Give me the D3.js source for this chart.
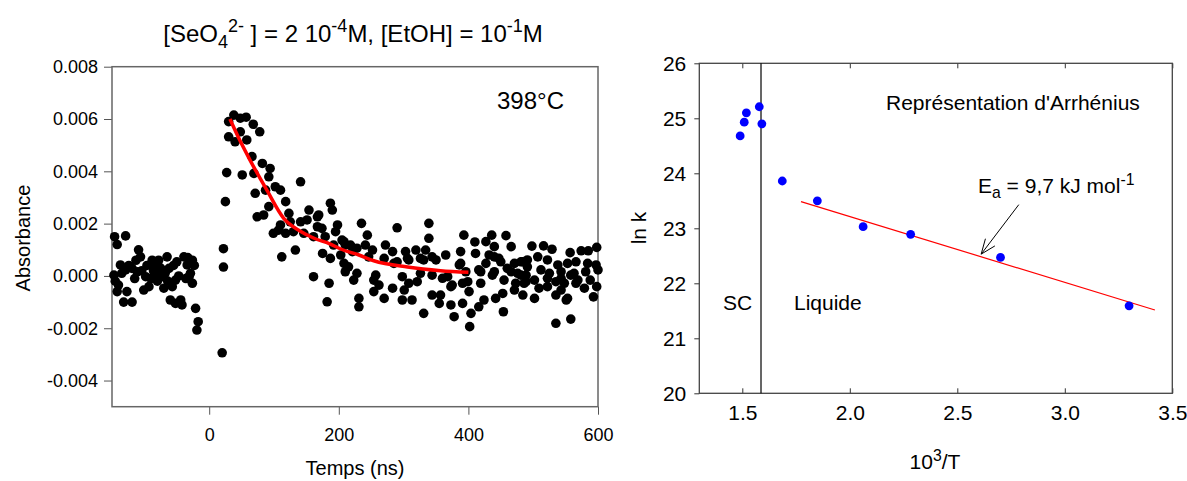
<!DOCTYPE html>
<html>
<head>
<meta charset="utf-8">
<script src="https://cdn.jsdelivr.net/npm/d3@7"></script>
<style>
  body { margin: 0; background: #fff; }
  text { font-family: "Liberation Sans", Arial, sans-serif; fill: #000; }
</style>
</head>
<body>
<svg id="chart" width="1187" height="481"></svg>
<script>
// ---- left panel: transient absorbance at 398°C ----
// [time (ns), absorbance]
const decayPts = [
  [-147,0.00003],[-146,0.0015],[-145,-0.0002],[-142,0.0012],[-142,-0.0006],[-140,-0.00035],[-137,0.00042],
  [-135,0.0001],[-132,-0.001],[-129,0.00153],[-129,0.00023],[-127,-0.0006],[-124,0.0004],[-119,0.00029],
  [-119,-0.001],[-115,-0.0001],[-113,0.0006],[-111,0.00016],[-109,0.001],[-106,0.00073],[-104,0.0002],
  [-101,-0.00054],[-98,-0.00003],[-96,0.0004],[-93,-0.00041],[-90,-0.0001],[-88,0.0006],[-86,0.0002],
  [-83,0.00042],[-83,0.0001],[-80,-0.0002],[-78,0.0006],[-75,0.0003],[-73,-0.00003],[-70,-0.00047],
  [-68,0.0001],[-65,0.00073],[-64,-0.0002],[-62,0.00029],[-60,-0.00092],[-57,-0.00041],[-55,0.0004],
  [-52,-0.00105],[-52,-0.00016],[-50,0.00054],[-47,0.0],[-44,-0.00092],[-42,-0.00111],[-39,0.00073],
  [-36,-0.0001],[-34,0.00042],[-33,0.0007],[-31,-0.00003],[-29,0.0001],[-26,0.0006],[-26,-0.00028],
  [-23,0.0004],[-21,-0.00124],[-19,-0.00207],[-17,-0.00175],
  [20,-0.00294],[22,0.00104],[22,0.00034],[25,0.00284],[27,0.00395],[30,0.0059],[30,0.00532],
  [38,0.00615],[40,0.00513],[48,0.00603],[48,0.00551],[51,0.00386],[57,0.00607],[58,0.0052],
  [66,0.00456],[68,0.0058],[69,0.00392],[71,0.00316],[74,0.00226],[78,0.00551],[82,0.0043],
  [84,0.00233],[87,0.00328],[92,0.00379],[92,0.00265],[94,0.00411],[99,0.00163],[102,0.00341],
  [107,0.00175],[110,0.00328],[110,0.00195],[112,0.00073],[118,0.00284],[118,0.00163],[123,0.00239],
  [125,0.00207],[130,0.00169],[133,0.00099],[141,0.0036],[141,0.00207],[146,0.00163],[151,0.00214],
  [154,0.00252],[161,0.0015],[161,-0.00003],[167,0.00226],[167,0.00188],[169,0.00233],[174,0.00182],
  [175,0.00086],[179,0.0015],[182,-0.00099],[185,-0.00028],[187,0.00278],[187,0.00067],[190,0.00252],
  [192,0.00118],[195,0.00169],[198,0.00195],[203,0.0008],[205,0.00137],[208,0.00131],[208,0.00048],
  [210,0.00118],[210,0.00016],[215,0.00035],[218,0.00118],[221,0.00093],[223,-0.00016],[228,0.00106],
  [228,0.0001],[231,-0.00086],[231,-0.00118],[235,0.00201],[241,0.00118],[244,0.00156],[246,0.00073],
  [252,0.00099],[254,-0.00016],[254,-0.0006],[257,0.00003],[262,-0.00035],[270,0.00067],[270,-0.00086],
  [272,0.00118],[283,0.00093],[283,-0.00047],[285,0.00048],[290,0.00184],[290,0.00054],[298,-0.00003],
  [298,-0.00092],[301,-0.00054],[303,0.00093],[306,0.00067],[308,0.00061],[308,-0.00028],[313,-0.00092],
  [319,0.00099],[321,-0.00022],[326,0.0001],[326,0.00067],[331,0.00061],[331,-0.00143],[334,0.00099],
  [339,0.00201],[339,0.00144],[344,0.00073],[344,0.00003],[344,-0.00073],[350,0.00061],[355,-0.00105],
  [357,-0.00073],[360,-0.00009],[365,0.0008],[368,-0.00003],[373,-0.00041],[373,-0.00111],[375,-0.00035],
  [378,-0.00156],[386,0.00042],[388,0.00093],[388,0.00048],[391,-0.00028],[391,-0.00105],[393,0.00156],
  [396,0.00016],[399,-0.00022],[401,-0.0006],[402,-0.00194],[404,-0.00143],[410,0.0013],[411,0.00086],
  [416,0.00023],[416,-0.00118],[419,0.00016],[419,-0.00028],[424,-0.00092],[427,0.00131],[427,0.00048],
  [432,0.0008],[436,0.00156],[437,0.00003],[440,0.00112],[440,0.00073],[440,0.00016],[442,-0.00086],
  [447,0.00067],[450,0.00054],[453,-0.00067],[454,-0.00137],[455,-0.00016],[458,0.00154],[460,0.00029],
  [466,0.00112],[466,0.00016],[471,0.00048],[471,-0.00054],[473,-0.00028],[476,0.0001],[481,0.00054],
  [481,0.00003],[484,0.00054],[484,-0.00073],[486,-0.00028],[489,0.00003],[489,-0.00022],[491,0.00061],
  [491,0.00035],[498,0.00114],[502,-0.00086],[502,-0.00016],[507,0.00073],[509,-0.00047],[512,0.00023],
  [516,0.00115],[522,0.00061],[522,-0.00009],[522,-0.00041],[525,0.0001],[529,0.00102],[535,-0.00073],
  [535,-0.00181],[535,-0.00022],[538,0.00042],[543,0.00016],[543,-0.00054],[543,-0.00009],[548,-0.00028],
  [551,-0.00092],[553,0.00048],[553,-0.00086],[557,0.00089],[558,0.00003],[558,-0.00165],[563,0.0001],
  [566,0.00054],[566,-0.00028],[569,-0.00016],[574,0.00096],[579,-0.00047],[581,0.00016],[584,0.00048],
  [585,0.00096],[588,-0.00016],[593,-0.0008],[597,0.00042],[598,0.00109],[598,-0.00041],[600,0.00023]
];
// red fitted decay
const fitT = [32, 45, 63, 89, 115, 140, 161, 187, 203, 231, 254, 306, 357, 400];
const fitV = [0.0060, 0.0053, 0.00443, 0.00328, 0.0022, 0.00172, 0.00145, 0.00122, 0.00103, 0.0008, 0.00058, 0.00034, 0.0002, 0.00014];
const leftXTicks = [0, 200, 400, 600];
const leftYTicks = [-0.004, -0.002, 0, 0.002, 0.004, 0.006, 0.008];

// ---- right panel: Arrhenius plot ----
const arrX = [1.49, 1.509, 1.519, 1.579, 1.591, 1.686, 1.849, 2.062, 2.283, 2.701, 3.299];
const arrY = [24.68, 24.93, 25.10, 25.21, 24.90, 23.86, 23.50, 23.03, 22.89, 22.47, 21.59];
const lineX = [1.773, 3.419];           // linear fit ends
const lineY = [23.485, 21.515];
const scBoundary = 1.587;              // supercritical / liquid limit
const arrowTail = [2.786, 23.43], arrowTip = [2.611, 22.53];
const rightXTicks = [1.5, 2.0, 2.5, 3.0, 3.5];
const rightYTicks = [20, 21, 22, 23, 24, 25, 26];

const svg = d3.select("#chart");
const FONT = "Liberation Sans, Arial, sans-serif";

// helper for text with sub / superscripts
function richText(g, x, y, parts, size, anchor) {
  const t = g.append("text").attr("x", x).attr("y", y)
    .attr("font-size", size).attr("text-anchor", anchor || "start");
  let shift = 0;
  parts.forEach(p => {
    let target = 0;
    if (p.s === "sup") target = -size * 0.4;
    if (p.s === "sub") target = size * 0.25;
    t.append("tspan")
      .attr("dy", target - shift)
      .attr("font-size", p.s ? size * 0.75 : size)
      .text(p.t);
    shift = target;
  });
  return t;
}

//==================== left panel ====================
const xL = d3.scaleLinear([-150, 600], [112, 598]);
const yL = d3.scaleLinear([-0.005, 0.008], [406.7, 66.7]);
const gL = svg.append("g");

gL.append("g")
  .attr("transform", "translate(0,406.7)")
  .call(d3.axisBottom(xL).tickValues(leftXTicks).tickSize(8).tickSizeOuter(0).tickPadding(14))
  .call(g => g.select(".domain").remove())
  .call(g => g.selectAll("line").attr("stroke", "#555"))
  .call(g => g.selectAll("text").attr("font-size", 18).attr("font-family", FONT));

gL.append("g")
  .attr("transform", "translate(112,0)")
  .call(d3.axisLeft(yL).tickValues(leftYTicks).tickSize(8).tickSizeOuter(0).tickPadding(6)
    .tickFormat(d => d.toFixed(3)))
  .call(g => g.select(".domain").remove())
  .call(g => g.selectAll("line").attr("stroke", "#555"))
  .call(g => g.selectAll("text").attr("font-size", 18).attr("font-family", FONT));

gL.append("rect")
  .attr("x", xL(-150)).attr("y", yL(0.008))
  .attr("width", xL(600) - xL(-150)).attr("height", yL(-0.005) - yL(0.008))
  .attr("fill", "none").attr("stroke", "#666").attr("stroke-width", 1.5);

gL.selectAll(".dot")
  .data(decayPts).enter()
  .append("circle")
  .attr("class", "dot")
  .attr("cx", d => xL(d[0]))
  .attr("cy", d => yL(d[1]))
  .attr("r", 4.8)
  .attr("fill", "#000");

gL.append("path")
  .datum(fitT.map((t, i) => [t, fitV[i]]))
  .attr("fill", "none")
  .attr("stroke", "#ff0000")
  .attr("stroke-width", 3.5)
  .attr("d", d3.line().x(d => xL(d[0])).y(d => yL(d[1])).curve(d3.curveMonotoneX));

gL.append("text").attr("x", 497).attr("y", 109).attr("font-size", 24).text("398°C");

richText(gL, 353, 42, [
  {t: "[SeO"}, {t: "4", s: "sub"}, {t: "2-", s: "sup"}, {t: " ] = 2 10"}, {t: "-4", s: "sup"},
  {t: "M, [EtOH] = 10"}, {t: "-1", s: "sup"}, {t: "M"}
], 24, "middle");

gL.append("text").attr("x", 355).attr("y", 475).attr("font-size", 20)
  .attr("text-anchor", "middle").text("Temps (ns)");
gL.append("text").attr("transform", "translate(30,238) rotate(-90)").attr("font-size", 20)
  .attr("text-anchor", "middle").text("Absorbance");

//==================== right panel ====================
const xR = d3.scaleLinear([1.3, 3.5], [699.3, 1172.3]);
const yR = d3.scaleLinear([20, 26], [393.3, 63.3]);
const gR = svg.append("g");

gR.append("g")
  .attr("transform", "translate(0,393.3)")
  .call(d3.axisBottom(xR).tickValues(rightXTicks).tickSize(-5).tickSizeOuter(0).tickPadding(12)
    .tickFormat(d3.format(".1f")))
  .call(g => g.select(".domain").remove())
  .call(g => g.selectAll("line").attr("stroke", "#333"))
  .call(g => g.selectAll("text").attr("font-size", 21).attr("font-family", FONT));

gR.append("g")
  .attr("transform", "translate(0,63.3)")
  .call(d3.axisTop(xR).tickValues(rightXTicks).tickSize(-5).tickSizeOuter(0).tickFormat(""))
  .call(g => g.select(".domain").remove())
  .call(g => g.selectAll("line").attr("stroke", "#333"));

gR.append("g")
  .attr("transform", "translate(699.3,0)")
  .call(d3.axisLeft(yR).tickValues(rightYTicks).tickSize(5).tickSizeOuter(0).tickPadding(8)
    .tickFormat(d3.format("d")))
  .call(g => g.select(".domain").remove())
  .call(g => g.selectAll("line").attr("stroke", "#333"))
  .call(g => g.selectAll("text").attr("font-size", 21).attr("font-family", FONT));

gR.append("rect")
  .attr("x", xR(1.3)).attr("y", yR(26))
  .attr("width", xR(3.5) - xR(1.3)).attr("height", yR(20) - yR(26))
  .attr("fill", "none").attr("stroke", "#444").attr("stroke-width", 1.3);

gR.append("line")
  .attr("x1", xR(scBoundary)).attr("x2", xR(scBoundary))
  .attr("y1", yR(26)).attr("y2", yR(20))
  .attr("stroke", "#000").attr("stroke-width", 1.2);

gR.append("line")
  .attr("x1", xR(lineX[0])).attr("y1", yR(lineY[0]))
  .attr("x2", xR(lineX[1])).attr("y2", yR(lineY[1]))
  .attr("stroke", "#ff0000").attr("stroke-width", 1.2);

gR.selectAll(".arr")
  .data(arrX).enter()
  .append("circle")
  .attr("class", "arr")
  .attr("cx", d => xR(d))
  .attr("cy", (d, i) => yR(arrY[i]))
  .attr("r", 4.4)
  .attr("fill", "#0000ff");

// arrow pointing at the fit line
const ax1 = xR(arrowTail[0]), ay1 = yR(arrowTail[1]);
const ax2 = xR(arrowTip[0]), ay2 = yR(arrowTip[1]);
gR.append("line").attr("x1", ax1).attr("y1", ay1).attr("x2", ax2).attr("y2", ay2)
  .attr("stroke", "#000").attr("stroke-width", 1);
const ang = Math.atan2(ay1 - ay2, ax1 - ax2);
[-0.38, 0.38].forEach(da => {
  gR.append("line")
    .attr("x1", ax2).attr("y1", ay2)
    .attr("x2", ax2 + 16 * Math.cos(ang + da))
    .attr("y2", ay2 + 16 * Math.sin(ang + da))
    .attr("stroke", "#000").attr("stroke-width", 1);
});

richText(gR, 978, 193, [
  {t: "E"}, {t: "a", s: "sub"}, {t: " = 9,7 kJ mol"}, {t: "-1", s: "sup"}
], 21);

gR.append("text").attr("x", 886).attr("y", 110).attr("font-size", 21).text("Représentation d'Arrhénius");
gR.append("text").attr("x", 723).attr("y", 310).attr("font-size", 21).text("SC");
gR.append("text").attr("x", 794).attr("y", 310).attr("font-size", 21).text("Liquide");

richText(gR, 935, 469, [{t: "10"}, {t: "3", s: "sup"}, {t: "/T"}], 21, "middle");
gR.append("text").attr("transform", "translate(646,228) rotate(-90)").attr("font-size", 21)
  .attr("text-anchor", "middle").text("ln k");
</script>
</body>
</html>
